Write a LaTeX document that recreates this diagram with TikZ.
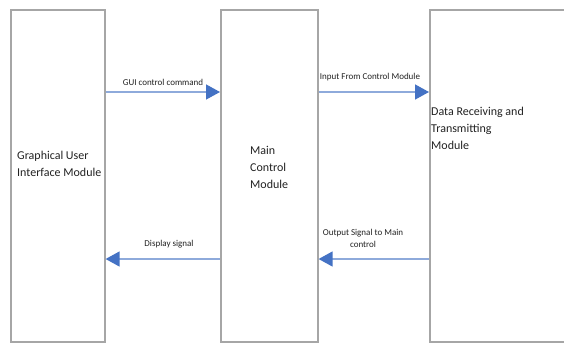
\documentclass[tikz,border=0pt]{standalone}
\usepackage{fontspec}
\setmainfont{Carlito}
\usetikzlibrary{arrows.meta}
\definecolor{boxgray}{HTML}{A6A6A6}
\definecolor{linkblue}{HTML}{8EAADB}
\definecolor{headblue}{HTML}{4472C4}
\definecolor{txt}{HTML}{222222}
\tikzset{
  module/.style={draw=boxgray, line width=1.6pt, minimum height=332pt, anchor=north west, inner sep=0pt},
  link/.style={draw=linkblue, line width=1.4pt, -{Triangle[length=14pt,width=15pt,color=headblue]}},
  bigtext/.style={font=\fontsize{12}{17}\selectfont, text=txt, align=left, anchor=north west, inner sep=0pt},
  smalltext/.style={font=\fontsize{9}{12.5}\selectfont, text=txt, align=center, inner sep=0pt},
}
\begin{document}
\begin{tikzpicture}[x=1pt,y=-1pt]
\useasboundingbox[fill=white] (0,0) rectangle (564,343);
% the three modules
\node[module, minimum width=94pt] (gui) at (10,9) {};
\node[module, minimum width=97pt] (main) at (220,9) {};
\node[module, minimum width=150pt] (data) at (429,9) {};
% module titles
\node[bigtext] (guit) at (17,151) {Graphical User\\Interface Module};
\node[bigtext] (maint) at (250,146.5) {Main\\Control\\Module};
\node[bigtext] (datat) at (431,106.5) {Data Receiving and\\Transmitting\\Module};
% rows of the connectors
\coordinate (top) at (0,92);
\coordinate (bot) at (0,259);
\draw[link] (gui.east |- top) -- (main.west |- top);
\draw[link] (main.east |- top) -- (data.west |- top);
\draw[link] (main.west |- bot) -- (gui.east |- bot);
\draw[link] (data.west |- bot) -- (main.east |- bot);
% connector labels
\node[smalltext] (l1) at (163,82) {GUI control command};
\node[smalltext] (l2) at (370,77) {Input From Control Module};
\node[smalltext] (l3) at (169,244) {Display signal};
\node[smalltext] (l4) at (363,238.5) {Output Signal to Main\\control};
\end{tikzpicture}
\end{document}
